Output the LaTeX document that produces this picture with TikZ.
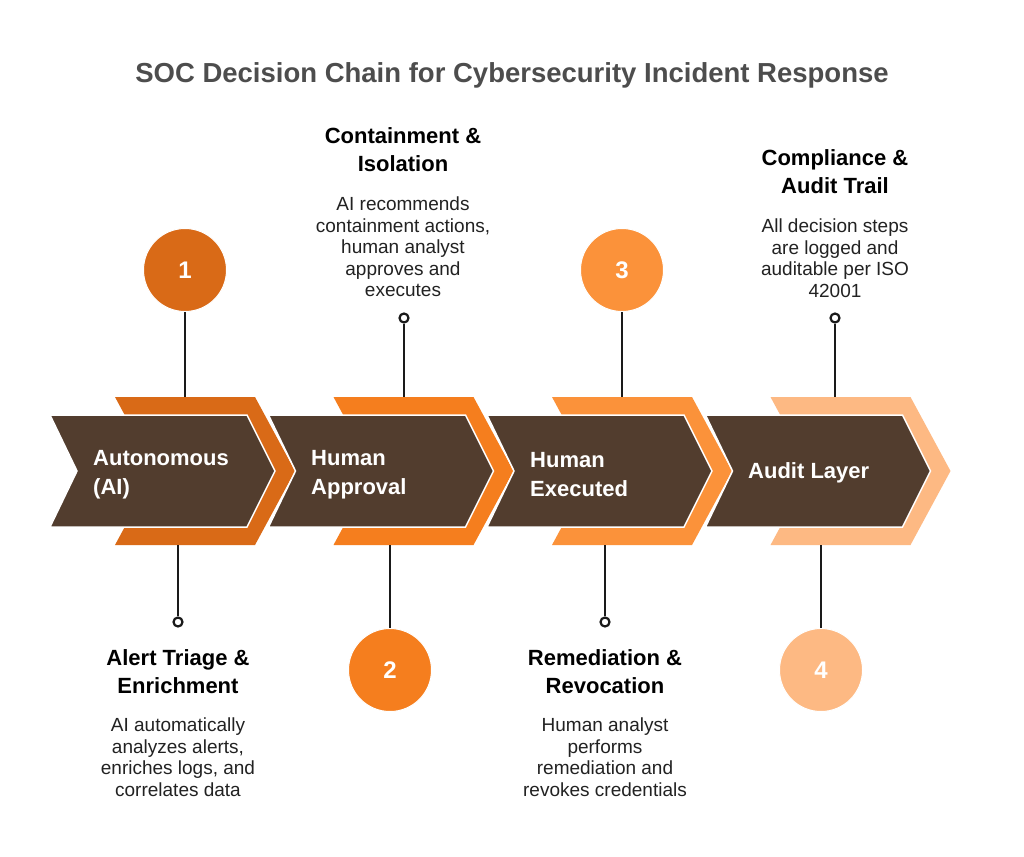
\documentclass[tikz,border=0pt]{standalone}
\usepackage{fontspec}
\setmainfont{Liberation Sans}
\definecolor{cA}{HTML}{D96A17}
\definecolor{cB}{HTML}{F57E1E}
\definecolor{cC}{HTML}{FB923A}
\definecolor{cD}{HTML}{FDB983}
\definecolor{chevbrown}{HTML}{523D2E}
\definecolor{titlegray}{HTML}{4D4D4D}
\definecolor{linecol}{HTML}{1A1A1A}
\definecolor{bodycol}{HTML}{222222}
\tikzset{
  stepnum/.style={circle, minimum size=83pt, inner sep=0pt, draw=white, line width=1pt,
    font=\fontsize{24}{28}\selectfont\bfseries, text=white},
  conn/.style={draw=linecol, line width=2.2pt},
  pin/.style={circle, draw=linecol, fill=white, line width=2.2pt, minimum size=9pt, inner sep=0pt},
  head/.style={align=center, font=\fontsize{22}{28}\selectfont\bfseries, text=black, inner sep=0pt},
  body/.style={align=center, font=\fontsize{19}{21.5}\selectfont, text=bodycol, inner sep=0pt},
  lab/.style={anchor=west, align=left, font=\fontsize{22}{29}\selectfont\bfseries, text=white, inner sep=0pt},
  brownchev/.style={fill=chevbrown, draw=white, line width=1.5pt, line join=miter},
}
\begin{document}
\begin{tikzpicture}[x=1pt,y=-1pt]
\useasboundingbox[fill=white] (0,0) rectangle (1024,856);

% title
\node[font=\fontsize{27.5}{32}\selectfont\bfseries, text=titlegray] (title) at (512,75) {SOC Decision Chain for Cybersecurity Incident Response};

% chevrons
\foreach \i/\c in {0/cA,1/cB,2/cC,3/cD} {
  \pgfmathsetmacro\xx{50+218.5*\i}
  \fill[\c] (\xx+65,397) -- (\xx+205,397) -- (\xx+245,471) -- (\xx+205,545) -- (\xx+65,545) -- (\xx+105,471) -- cycle;
  \path[brownchev] (\xx,415) -- (\xx+197,415) -- (\xx+225,471) -- (\xx+197,527) -- (\xx,527) -- (\xx+27,471) -- cycle;
}

% chevron labels
\node[lab] (l1) at (93,475) {Autonomous\\(AI)};
\node[lab] (l2) at (311,475) {Human\\Approval};
\node[lab] (l3) at (530,475) {Human\\Executed};
\node[lab] (l4) at (748,473) {Audit Layer};

% attachment points on the chevrons
\coordinate (t1) at (185,397);
\coordinate (t2) at (404,397);
\coordinate (t3) at (622,397);
\coordinate (t4) at (835,397);
\coordinate (b1) at (178,545);
\coordinate (b2) at (390,545);
\coordinate (b3) at (605,545);
\coordinate (b4) at (821,545);

% number circles
\node[stepnum, fill=cA] (n1) at (185,270) {1};
\node[stepnum, fill=cB] (n2) at (390,670) {2};
\node[stepnum, fill=cC] (n3) at (622,270) {3};
\node[stepnum, fill=cD] (n4) at (821,670) {4};

% pins
\node[pin] (p2) at (404,318) {};
\node[pin] (p4) at (835,318) {};
\node[pin] (q1) at (178,622) {};
\node[pin] (q3) at (605,622) {};

% connectors
\draw[conn] (n1) -- (t1);
\draw[conn] (p2) -- (t2);
\draw[conn] (n3) -- (t3);
\draw[conn] (p4) -- (t4);
\draw[conn] (b1) -- (q1);
\draw[conn] (b2) -- (n2);
\draw[conn] (b3) -- (q3);
\draw[conn] (b4) -- (n4);

% texts
\node[head] (h2) at (403,150) {Containment \&\\Isolation};
\node[body] (d2) at (403,247) {AI recommends\\containment actions,\\human analyst\\approves and\\executes};
\node[head] (h4) at (835,172) {Compliance \&\\Audit Trail};
\node[body] (d4) at (835,258) {All decision steps\\are logged and\\auditable per ISO\\42001};
\node[head] (h1) at (178,672) {Alert Triage \&\\Enrichment};
\node[body] (d1) at (178,757) {AI automatically\\analyzes alerts,\\enriches logs, and\\correlates data};
\node[head] (h3) at (605,672) {Remediation \&\\Revocation};
\node[body] (d3) at (605,757) {Human analyst\\performs\\remediation and\\revokes credentials};
\end{tikzpicture}
\end{document}
